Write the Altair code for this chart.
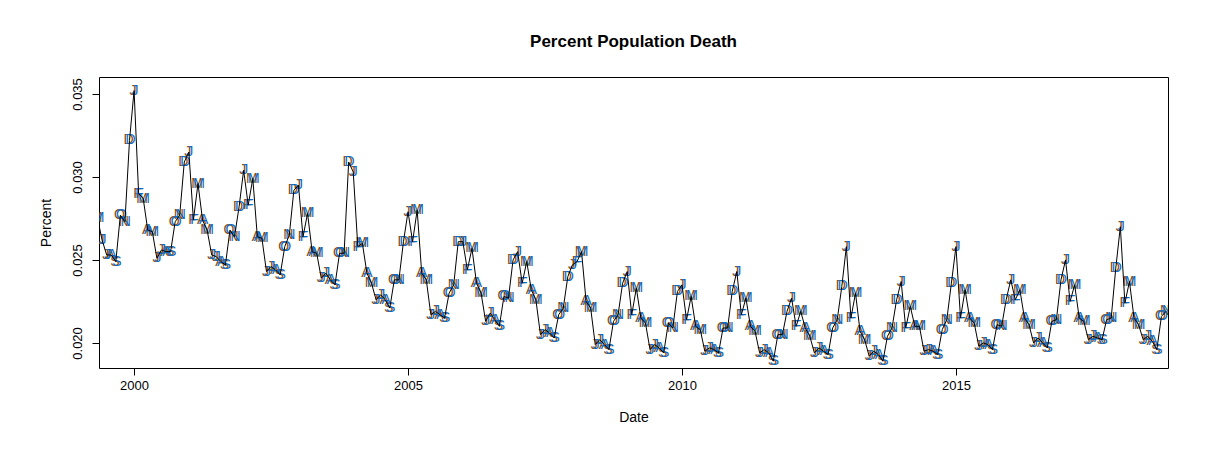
import pandas as pd
import altair as alt

years = list(range(1999, 2019))
month_letters = ["J", "F", "M", "A", "M", "J", "J", "A", "S", "O", "N", "D"]

# percent population death by year, Jan..Dec
pct_1999 = [0.0340, 0.0303, 0.0328, 0.0282, 0.0275, 0.0262, 0.0253, 0.0253, 0.0249, 0.0277, 0.0273, 0.0322]
pct_2000 = [0.0352, 0.0290, 0.0287, 0.0268, 0.0267, 0.0251, 0.0256, 0.0255, 0.0255, 0.0273, 0.0277, 0.0309]
pct_2001 = [0.0315, 0.0274, 0.0296, 0.0274, 0.0268, 0.0253, 0.0252, 0.0249, 0.0247, 0.0268, 0.0264, 0.0282]
pct_2002 = [0.0304, 0.0283, 0.0299, 0.0264, 0.0263, 0.0243, 0.0246, 0.0244, 0.0241, 0.0258, 0.0265, 0.0292]
pct_2003 = [0.0295, 0.0264, 0.0278, 0.0255, 0.0254, 0.0239, 0.0242, 0.0238, 0.0235, 0.0254, 0.0254, 0.0309]
pct_2004 = [0.0303, 0.0258, 0.0260, 0.0242, 0.0236, 0.0226, 0.0229, 0.0226, 0.0221, 0.0238, 0.0238, 0.0261]
pct_2005 = [0.0279, 0.0261, 0.0280, 0.0242, 0.0238, 0.0217, 0.0219, 0.0217, 0.0215, 0.0230, 0.0235, 0.0261]
pct_2006 = [0.0261, 0.0244, 0.0257, 0.0236, 0.0230, 0.0213, 0.0218, 0.0214, 0.0210, 0.0228, 0.0227, 0.0250]
pct_2007 = [0.0255, 0.0236, 0.0249, 0.0232, 0.0226, 0.0205, 0.0208, 0.0206, 0.0203, 0.0217, 0.0221, 0.0240]
pct_2008 = [0.0247, 0.0249, 0.0255, 0.0225, 0.0221, 0.0199, 0.0202, 0.0199, 0.0196, 0.0213, 0.0217, 0.0236]
pct_2009 = [0.0243, 0.0217, 0.0233, 0.0215, 0.0212, 0.0196, 0.0199, 0.0197, 0.0194, 0.0212, 0.0209, 0.0231]
pct_2010 = [0.0235, 0.0214, 0.0228, 0.0210, 0.0208, 0.0195, 0.0197, 0.0196, 0.0194, 0.0209, 0.0209, 0.0231]
pct_2011 = [0.0243, 0.0217, 0.0227, 0.0210, 0.0207, 0.0194, 0.0196, 0.0194, 0.0189, 0.0205, 0.0205, 0.0219]
pct_2012 = [0.0227, 0.0210, 0.0219, 0.0209, 0.0204, 0.0194, 0.0197, 0.0195, 0.0193, 0.0209, 0.0214, 0.0234]
pct_2013 = [0.0258, 0.0215, 0.0230, 0.0207, 0.0202, 0.0192, 0.0195, 0.0193, 0.0189, 0.0204, 0.0209, 0.0226]
pct_2014 = [0.0237, 0.0209, 0.0222, 0.0210, 0.0210, 0.0195, 0.0196, 0.0195, 0.0193, 0.0208, 0.0214, 0.0236]
pct_2015 = [0.0258, 0.0215, 0.0232, 0.0215, 0.0212, 0.0198, 0.0200, 0.0199, 0.0196, 0.0211, 0.0210, 0.0226]
pct_2016 = [0.0238, 0.0226, 0.0232, 0.0215, 0.0211, 0.0200, 0.0203, 0.0200, 0.0197, 0.0213, 0.0214, 0.0238]
pct_2017 = [0.0250, 0.0225, 0.0235, 0.0215, 0.0213, 0.0202, 0.0204, 0.0203, 0.0202, 0.0214, 0.0215, 0.0245]
pct_2018 = [0.0270, 0.0224, 0.0237, 0.0215, 0.0211, 0.0202, 0.0204, 0.0201, 0.0196, 0.0216, 0.0219]

all_years = [pct_1999, pct_2000, pct_2001, pct_2002, pct_2003, pct_2004, pct_2005,
             pct_2006, pct_2007, pct_2008, pct_2009, pct_2010, pct_2011, pct_2012,
             pct_2013, pct_2014, pct_2015, pct_2016, pct_2017, pct_2018]

rows = []
for yr, vals in zip(years, all_years):
    for m, v in enumerate(vals):
        rows.append({"date": yr + m / 12, "pct": v, "letter": month_letters[m]})
df = pd.DataFrame(rows)

font = "Liberation Sans"
x = alt.X("date:Q", title="Date", scale=alt.Scale(domain=[1999.36, 2018.87], nice=False, zero=False),
          axis=alt.Axis(values=[2000, 2005, 2010, 2015], format="d", grid=False, tickColor="black",
                        domain=False, labelColor="black", labelFontSize=13, labelFont=font,
                        titleFontSize=14, titleFont=font, titleFontWeight="normal",
                        titlePadding=18, tickSize=7, labelPadding=4))
y = alt.Y("pct:Q", title="Percent", scale=alt.Scale(domain=[0.01849, 0.03602], nice=False, zero=False),
          axis=alt.Axis(values=[0.020, 0.025, 0.030, 0.035], format=".3f", grid=False, tickColor="black",
                        domain=False, labelColor="black", labelFontSize=13, labelFont=font,
                        labelAngle=-90, labelAlign="center", labelBaseline="bottom", labelPadding=8,
                        titleFontSize=14, titleFont=font, titleFontWeight="normal",
                        titlePadding=18, tickSize=7))

base = alt.Chart(df).encode(x=x, y=y)
brown = base.mark_text(font=font, fontSize=14, color="#8f4a00", dx=-1, clip=True).encode(text="letter:N")
blue = base.mark_text(font=font, fontSize=14, color="#0a6cc4", dx=1, clip=True).encode(text="letter:N")
line = base.mark_line(color="black", strokeWidth=1, clip=True).encode(order="date:Q")

chart = (brown + blue + line).properties(
    width=1069, height=291,
    autosize=alt.AutoSizeParams(type="none"),
    padding={"left": 91, "top": 69, "right": 33, "bottom": 91},
    title=alt.TitleParams("Percent Population Death", fontSize=17, font=font, fontWeight="bold",
                          offset=26, anchor="middle", color="black"),
).configure(background="white").configure_view(stroke="black", strokeWidth=1, strokeOpacity=1)

chart.save("out.html", embed_options={"renderer": "svg", "actions": False})
